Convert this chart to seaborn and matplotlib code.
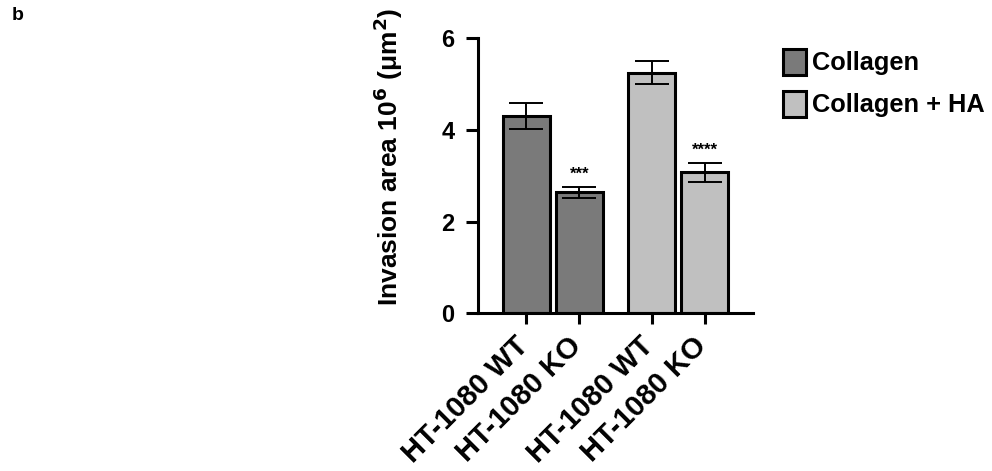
import matplotlib
matplotlib.use("Agg")
from matplotlib import pyplot as plt
import matplotlib.patches as mpatches
import matplotlib.transforms as mtransforms
import seaborn as sns
import pandas as pd
import numpy as np

# values
cell_lines = ['HT-1080 WT', 'HT-1080 KO', 'HT-1080 WT', 'HT-1080 KO']
conditions = ['Collagen', 'Collagen', 'Collagen + HA', 'Collagen + HA']
means = [4.30, 2.64, 5.25, 3.07]
errors = [0.29, 0.12, 0.25, 0.21]
stars = ['', '***', '', '****']
colors = {'Collagen': '#7a7a7a', 'Collagen + HA': '#c0c0c0'}

sns.set_style('ticks')
plt.rcParams['font.family'] = ['Liberation Sans', 'DejaVu Sans']
plt.rcParams['font.weight'] = 'bold'
plt.rcParams['text.color'] = 'black'
plt.rcParams['axes.labelcolor'] = 'black'
plt.rcParams['xtick.color'] = 'black'
plt.rcParams['ytick.color'] = 'black'
plt.rcParams['axes.edgecolor'] = 'black'

# group positions with a gap between the two conditions
pos = np.array([0, 1, 2.36, 3.36])
df = pd.DataFrame({'pos': pos, 'cell': cell_lines, 'cond': conditions, 'area': means})

fig = plt.figure(figsize=(9.92, 4.71), dpi=100)
ax = fig.add_axes([0.482, 0.335, 0.277, 0.584])

sns.barplot(data=df, x='pos', y='area', hue='cond', palette=colors,
            native_scale=True, dodge=False, width=0.89, errorbar=None,
            edgecolor='black', linewidth=2.2, legend=False, ax=ax)
ax.errorbar(pos, means, yerr=errors, fmt='none', ecolor='black',
            elinewidth=1.4, capsize=12.5, capthick=1.4)

for x, m, e, s in zip(pos, means, errors, stars):
    if s:
        ax.text(x, m + e + 0.1, s, ha='center', va='bottom', fontsize=12)

ax.set_xlim(-0.91, 4.27)
ax.set_ylim(0, 6)
ax.set_yticks([0, 2, 4, 6])
ax.set_xticks(pos)
ax.tick_params(axis='x', width=2.2, length=8, labelbottom=False)
ax.tick_params(axis='y', labelsize=17, width=2.2, length=9, pad=8)
for t in ax.get_yticklabels():
    t.set_fontweight('bold')

# rotated tick labels, nudged left like the original
lab_tr = ax.get_xaxis_transform() + mtransforms.ScaledTranslation(-0.12, -0.18, fig.dpi_scale_trans)
for x, lab in zip(pos, cell_lines):
    ax.text(x, 0, lab, transform=lab_tr, rotation=45, rotation_mode='anchor',
            ha='right', va='top', fontsize=21, fontweight='bold')

ax.set_xlabel('')
ax.set_ylabel('Invasion area 10$^6$ (\u03bcm$^2$)', fontsize=19, fontweight='bold')
ax.yaxis.set_label_coords(-0.265, 0.57)
ax.spines['left'].set_linewidth(2.2)
ax.spines['bottom'].set_linewidth(2.2)
sns.despine(ax=ax)

handles = [mpatches.Patch(facecolor=colors[c], edgecolor='black', linewidth=2.2, label=c)
           for c in ['Collagen', 'Collagen + HA']]
fig.legend(handles=handles, loc='upper left', bbox_to_anchor=(0.766, 0.945),
           frameon=False, prop={'weight': 'bold', 'size': 18.3},
           handlelength=0.9, handleheight=1.2, handletextpad=0.25, labelspacing=0.6)

fig.text(0.012, 0.985, 'b', fontsize=14, fontweight='bold', va='top')

fig.savefig('out.png', dpi=100)
